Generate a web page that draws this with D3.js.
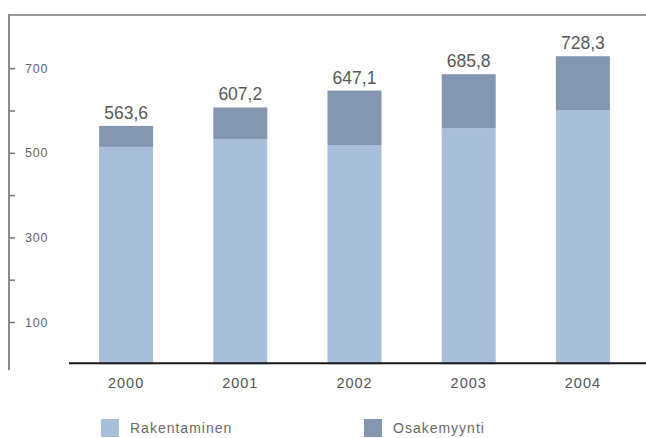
<!DOCTYPE html>
<html>
<head>
<meta charset="utf-8">
<script src="https://cdn.jsdelivr.net/npm/d3@7"></script>
<style>
  html, body { margin: 0; padding: 0; background: #fff; }
  svg { display: block; }
</style>
</head>
<body>
<svg id="chart" width="646" height="438"></svg>
<script>
const years = ["2000", "2001", "2002", "2003", "2004"];
const rakentaminen = [514, 532, 518, 558, 600];
const totals = [563.6, 607.2, 647.1, 685.8, 728.3];
const totalLabels = ["563,6", "607,2", "647,1", "685,8", "728,3"];
const yTicks = [100, 200, 300, 400, 500, 600, 700];
const yTickLabels = ["100", "", "300", "", "500", "", "700"];
const seriesNames = ["Rakentaminen", "Osakemyynti"];
const colors = ["#a9bedb", "#8397b0"];

const svg = d3.select("#chart");
const font = "'Liberation Sans', Arial, sans-serif";

const x = d3.scaleBand().domain(years).range([69, 640]).paddingInner(0.527).paddingOuter(0.2635);
const y = d3.scaleLinear().domain([0, 700]).range([364.3, 68.2]);

// top frame line
svg.append("line").attr("x1", 8).attr("x2", 646).attr("y1", 15).attr("y2", 15)
  .attr("stroke", "#9a9a9a").attr("stroke-width", 2);

// bars
const data = years.map((yr, i) => ({ yr, a: rakentaminen[i], t: totals[i], lab: totalLabels[i] }));
svg.append("g").selectAll("rect").data(data).join("rect")
  .attr("x", d => x(d.yr)).attr("width", x.bandwidth())
  .attr("y", d => y(d.a)).attr("height", d => y(0) - y(d.a))
  .attr("fill", colors[0]);
svg.append("g").selectAll("rect").data(data).join("rect")
  .attr("x", d => x(d.yr)).attr("width", x.bandwidth())
  .attr("y", d => y(d.t)).attr("height", d => y(d.a) - y(d.t))
  .attr("fill", colors[1]);

// value labels
svg.append("g").selectAll("text").data(data).join("text")
  .attr("x", d => x(d.yr) + x.bandwidth() / 2)
  .attr("y", d => y(d.t) - 7)
  .attr("text-anchor", "middle")
  .attr("font-family", font).attr("font-size", 17.5)
  .attr("fill", "#595959")
  .text(d => d.lab);

// y axis
const yAxis = d3.axisRight(y).tickValues(yTicks).tickSize(6).tickPadding(10)
  .tickFormat((d, i) => yTickLabels[i]);
const gy = svg.append("g").attr("transform", "translate(9,0)").call(yAxis);
gy.select(".domain").remove();
gy.selectAll(".tick line").attr("stroke", "#777").attr("stroke-width", 1.5);
gy.selectAll(".tick text").attr("font-family", font).attr("font-size", 12.5)
  .attr("letter-spacing", 0.8).attr("fill", "#666");
svg.append("line").attr("x1", 9).attr("x2", 9).attr("y1", 14).attr("y2", 370)
  .attr("stroke", "#8a8a8a").attr("stroke-width", 2);

// x axis
const xAxis = d3.axisBottom(x).tickSize(0).tickPadding(14);
const gx = svg.append("g").attr("transform", `translate(0,${y(0) - 1})`).call(xAxis);
gx.select(".domain").remove();
gx.selectAll(".tick text").attr("font-family", font).attr("font-size", 14.5)
  .attr("letter-spacing", 1).attr("fill", "#555");
svg.append("line").attr("x1", 69).attr("x2", 646).attr("y1", y(0) - 1).attr("y2", y(0) - 1)
  .attr("stroke", "#1a1a1a").attr("stroke-width", 2);

// legend
const legendX = [101, 364];
const lg = svg.append("g").selectAll("g").data(seriesNames).join("g")
  .attr("transform", (d, i) => `translate(${legendX[i]},419)`);
lg.append("rect").attr("width", 18).attr("height", 18).attr("fill", (d, i) => colors[i]);
lg.append("text").attr("x", 29).attr("y", 13.5)
  .attr("font-family", font).attr("font-size", 14).attr("fill", "#6a6a6a")
  .attr("letter-spacing", 1)
  .text(d => d);
</script>
</body>
</html>
